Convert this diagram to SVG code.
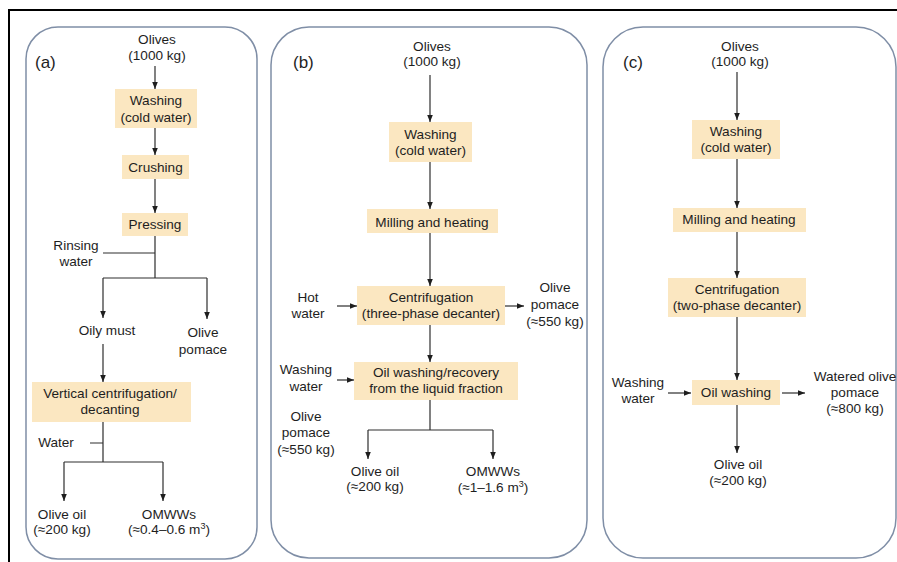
<svg xmlns="http://www.w3.org/2000/svg" width="897" height="562" viewBox="0 0 897 562">
<defs>
<style>
text{font-family:"Liberation Sans",Arial,sans-serif;font-size:13.6px;fill:#1e1e1e;text-anchor:middle}
.lbl{font-size:17px;text-anchor:start}
.panel{fill:#fff;stroke:#7f8ea6;stroke-width:1.5}
.box{fill:#fbe7c1;stroke:none}
.ln{fill:none;stroke:#2e2e2e;stroke-width:1.2}
.ar{fill:none;stroke:#2e2e2e;stroke-width:1.2;marker-end:url(#ah)}
</style>
<marker id="ah" viewBox="0 0 8 8" refX="8" refY="4" markerWidth="7" markerHeight="7" markerUnits="userSpaceOnUse" orient="auto">
<path d="M0,0.8 L8,4 L0,7.2 z" fill="#1e1e1e"/>
</marker>
</defs>
<rect width="897" height="562" fill="#fff"/>
<path d="M8,10 H897 M9,10 V562" stroke="#000" stroke-width="2" fill="none"/>
<rect class="panel" x="26" y="27" width="231" height="532" rx="32"/>
<rect class="panel" x="271" y="27" width="316" height="531" rx="38"/>
<rect class="panel" x="603" y="27" width="293" height="531" rx="40"/>

<g id="panel-a-label"><text class="lbl" x="35" y="68">(a)</text></g>
<g id="a-olives"><text x="157" y="44">Olives</text><text x="157" y="60">(1000 kg)</text></g>
<g id="a-washing"><rect class="box" x="115" y="89" width="82" height="39"/><text x="156" y="105">Washing</text><text x="156" y="122">(cold water)</text></g>
<g id="a-crushing"><rect class="box" x="122" y="155" width="67" height="24"/><text x="155.5" y="172">Crushing</text></g>
<g id="a-pressing"><rect class="box" x="122" y="213" width="66" height="23"/><text x="155" y="229">Pressing</text></g>
<g id="a-rinsing"><text x="76" y="250">Rinsing</text><text x="76" y="266">water</text></g>
<g id="a-oilymust"><text x="107" y="335">Oily must</text></g>
<g id="a-pomace"><text x="203" y="337">Olive</text><text x="203" y="354">pomace</text></g>
<g id="a-vertical"><rect class="box" x="32" y="382" width="159" height="40"/><text x="110" y="398">Vertical centrifugation/</text><text x="110" y="414">decanting</text></g>
<g id="a-water"><text x="56" y="447">Water</text></g>
<g id="a-oliveoil"><text x="62" y="519">Olive oil</text><text x="62" y="534">(≈200 kg)</text></g>
<g id="a-omww"><text x="169" y="519">OMWWs</text><text x="169" y="534">(≈0.4–0.6 m<tspan font-size="9" dy="-5">3</tspan><tspan dy="5">)</tspan></text></g>

<g id="panel-b-label"><text class="lbl" x="293" y="68">(b)</text></g>
<g id="b-olives"><text x="432" y="51">Olives</text><text x="432" y="66">(1000 kg)</text></g>
<g id="b-washing"><rect class="box" x="389" y="122" width="83" height="40"/><text x="430.5" y="139">Washing</text><text x="430.5" y="155">(cold water)</text></g>
<g id="b-milling"><rect class="box" x="367" y="209" width="131" height="24"/><text x="432" y="227">Milling and heating</text></g>
<g id="b-centrifugation"><rect class="box" x="357" y="286" width="148" height="39"/><text x="431" y="302">Centrifugation</text><text x="431" y="318">(three-phase decanter)</text></g>
<g id="b-hotwater"><text x="308" y="302">Hot</text><text x="308" y="318">water</text></g>
<g id="b-pomace1"><text x="555" y="292">Olive</text><text x="555" y="309">pomace</text><text x="555" y="326">(≈550 kg)</text></g>
<g id="b-oilwashing"><rect class="box" x="354" y="362" width="164" height="38"/><text x="436" y="377">Oil washing/recovery</text><text x="436" y="393">from the liquid fraction</text></g>
<g id="b-washingwater"><text x="306" y="374">Washing</text><text x="306" y="391">water</text></g>
<g id="b-pomace2"><text x="306" y="421">Olive</text><text x="306" y="437">pomace</text><text x="306" y="454">(≈550 kg)</text></g>
<g id="b-oliveoil"><text x="375" y="476">Olive oil</text><text x="375" y="491">(≈200 kg)</text></g>
<g id="b-omww"><text x="493" y="476">OMWWs</text><text x="493" y="492">(≈1–1.6 m<tspan font-size="9" dy="-5">3</tspan><tspan dy="5">)</tspan></text></g>

<g id="panel-c-label"><text class="lbl" x="623" y="68">(c)</text></g>
<g id="c-olives"><text x="740" y="51">Olives</text><text x="740" y="66">(1000 kg)</text></g>
<g id="c-washing"><rect class="box" x="692" y="120" width="88" height="39"/><text x="736" y="136">Washing</text><text x="736" y="152">(cold water)</text></g>
<g id="c-milling"><rect class="box" x="673" y="208" width="133" height="24"/><text x="739" y="224">Milling and heating</text></g>
<g id="c-centrifugation"><rect class="box" x="668" y="278" width="138" height="39"/><text x="737" y="294">Centrifugation</text><text x="737" y="310">(two-phase decanter)</text></g>
<g id="c-oilwashing"><rect class="box" x="692" y="380" width="88" height="25"/><text x="736" y="397">Oil washing</text></g>
<g id="c-washingwater"><text x="638" y="387">Washing</text><text x="638" y="403">water</text></g>
<g id="c-pomace"><text x="855" y="381">Watered olive</text><text x="855" y="397">pomace</text><text x="855" y="413">(≈800 kg)</text></g>
<g id="c-oliveoil"><text x="738" y="469">Olive oil</text><text x="738" y="485">(≈200 kg)</text></g>

<g id="connectors">
<line class="ar" x1="155" y1="66" x2="155" y2="89"/>
<line class="ar" x1="155" y1="128" x2="155" y2="155"/>
<line class="ar" x1="155" y1="179" x2="155" y2="213"/>
<path class="ln" d="M155,236 V278 M103,253 H155 M103,278 H207"/>
<line class="ar" x1="103" y1="278" x2="103" y2="318"/>
<line class="ar" x1="207" y1="278" x2="207" y2="319"/>
<line class="ar" x1="103" y1="344" x2="103" y2="382"/>
<path class="ln" d="M103,422 V462 M90,443 H103 M64,462 H163"/>
<line class="ar" x1="64" y1="462" x2="64" y2="501"/>
<line class="ar" x1="163" y1="462" x2="163" y2="501"/>

<line class="ar" x1="430" y1="75" x2="430" y2="122"/>
<line class="ar" x1="430" y1="162" x2="430" y2="209"/>
<line class="ar" x1="430" y1="233" x2="430" y2="286"/>
<line class="ar" x1="337" y1="306" x2="357" y2="306"/>
<line class="ar" x1="505" y1="306" x2="524" y2="306"/>
<line class="ar" x1="430" y1="325" x2="430" y2="362"/>
<line class="ar" x1="337" y1="380" x2="354" y2="380"/>
<path class="ln" d="M430,400 V430 M368,430 H493"/>
<line class="ar" x1="368" y1="430" x2="368" y2="459"/>
<line class="ar" x1="493" y1="430" x2="493" y2="459"/>

<line class="ar" x1="737" y1="72" x2="737" y2="120"/>
<line class="ar" x1="737" y1="159" x2="737" y2="208"/>
<line class="ar" x1="737" y1="232" x2="737" y2="278"/>
<line class="ar" x1="737" y1="317" x2="737" y2="380"/>
<line class="ar" x1="668" y1="393" x2="691" y2="393"/>
<line class="ar" x1="782" y1="393" x2="805" y2="393"/>
<line class="ar" x1="737" y1="405" x2="737" y2="453"/>
</g>
</svg>
